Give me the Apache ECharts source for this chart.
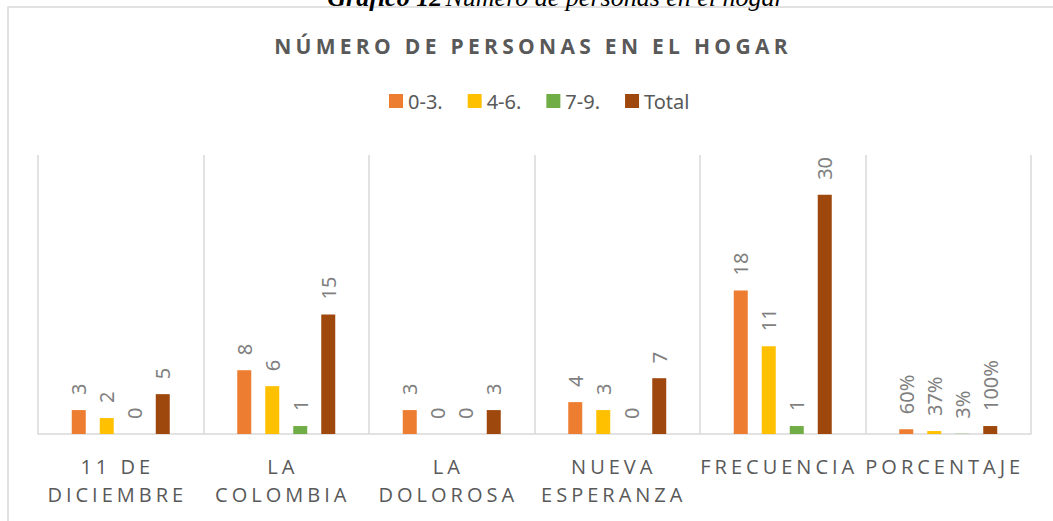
<!DOCTYPE html>
<html>
<head>
<meta charset="utf-8">
<script src="https://cdn.jsdelivr.net/npm/echarts@6/dist/echarts.min.js"></script>
<style>
  html, body { margin: 0; padding: 0; background: #fff; }
  #hogar { width: 1053px; height: 521px; }
  /* letter spacing only for the title and the category labels (Open Sans) */
  #hogar text[style*="Open Sans"] { letter-spacing: 4px; }
  #hogar text[style*="Open Sans"][style*="21px"] { letter-spacing: 4.3px; }
</style>
</head>
<body>
<div id="hogar"></div>
<script>
const categorias = ["11 DE\nDICIEMBRE", "LA\nCOLOMBIA", "LA\nDOLOROSA", "NUEVA\nESPERANZA", "FRECUENCIA", "PORCENTAJE"];
const rango03 = [3, 8, 3, 4, 18, 0.60];
const rango46 = [2, 6, 0, 3, 11, 0.37];
const rango79 = [0, 1, 0, 0, 1, 0.03];
const total = [5, 15, 3, 7, 30, 1.00];
const nombres = ["0-3.", "4-6.", "7-9.", "Total"];

const colores = ["#ed7d31", "#ffc000", "#70ad47", "#9e480e"];
const espaciada = "'Open Sans', sans-serif";
const normal = "'Noto Sans', sans-serif";

function etiqueta(p) {
  // the last column holds shares, shown as percent
  if (p.dataIndex === 5) return Math.round(p.value * 100) + "%";
  return p.value;
}

function serie(nombre, datos) {
  return {
    name: nombre,
    type: "bar",
    data: datos,
    barWidth: 14,
    barGap: "100%",
    label: {
      show: true,
      position: "top",
      rotate: 90,
      align: "left",
      verticalAlign: "middle",
      distance: 15,
      color: "#7f7f7f",
      fontFamily: normal,
      fontSize: 20,
      formatter: etiqueta
    }
  };
}

const mychart = echarts.init(document.getElementById("hogar"), null, { renderer: "svg" });
mychart.setOption({
  animation: false,
  color: colores,
  graphic: [
    {
      type: "rect",
      shape: { x: 8, y: 7, width: 1100, height: 600 },
      style: { fill: "none", stroke: "#d9d9d9", lineWidth: 1.5 },
      silent: true
    },
    {
      type: "text",
      x: 556,
      y: -3,
      style: {
        text: "{b|Gráfico 12} {i|Número de personas en el hogar}",
        textAlign: "center",
        textVerticalAlign: "middle",
        rich: {
          b: { fontFamily: "'Liberation Serif', serif", fontSize: 26, fontStyle: "italic", fontWeight: "bold", fill: "#000" },
          i: { fontFamily: "'Liberation Serif', serif", fontSize: 26, fontStyle: "italic", fill: "#000" }
        }
      }
    },
    {
      type: "text",
      x: 533,
      y: 46,
      style: {
        text: "NÚMERO DE PERSONAS EN EL HOGAR",
        textAlign: "center",
        textVerticalAlign: "middle",
        fontFamily: espaciada,
        fontSize: 21,
        fontWeight: "bold",
        fill: "#595959"
      }
    }
  ],
  legend: {
    data: nombres,
    left: 384,
    top: 86,
    itemWidth: 14,
    itemHeight: 14,
    itemGap: 25,
    icon: "rect",
    textStyle: { color: "#595959", fontFamily: normal, fontSize: 20 }
  },
  grid: { left: 38, right: 22, top: 155, bottom: 87 },
  xAxis: {
    type: "category",
    data: categorias,
    axisLine: { lineStyle: { color: "#d9d9d9", width: 1.5 } },
    axisTick: { show: false },
    splitLine: { show: true, lineStyle: { color: "#d9d9d9", width: 1.5 } },
    axisLabel: {
      interval: 0,
      margin: 18,
      lineHeight: 28,
      padding: [0, 7, 0, 0],
      color: "#595959",
      fontFamily: espaciada,
      fontSize: 20
    }
  },
  yAxis: {
    type: "value",
    min: 0,
    max: 35,
    show: false
  },
  series: [
    serie(nombres[0], rango03),
    serie(nombres[1], rango46),
    serie(nombres[2], rango79),
    serie(nombres[3], total)
  ]
});
window.addEventListener("resize", function () {
  mychart.resize();
});
</script>
</body>
</html>
